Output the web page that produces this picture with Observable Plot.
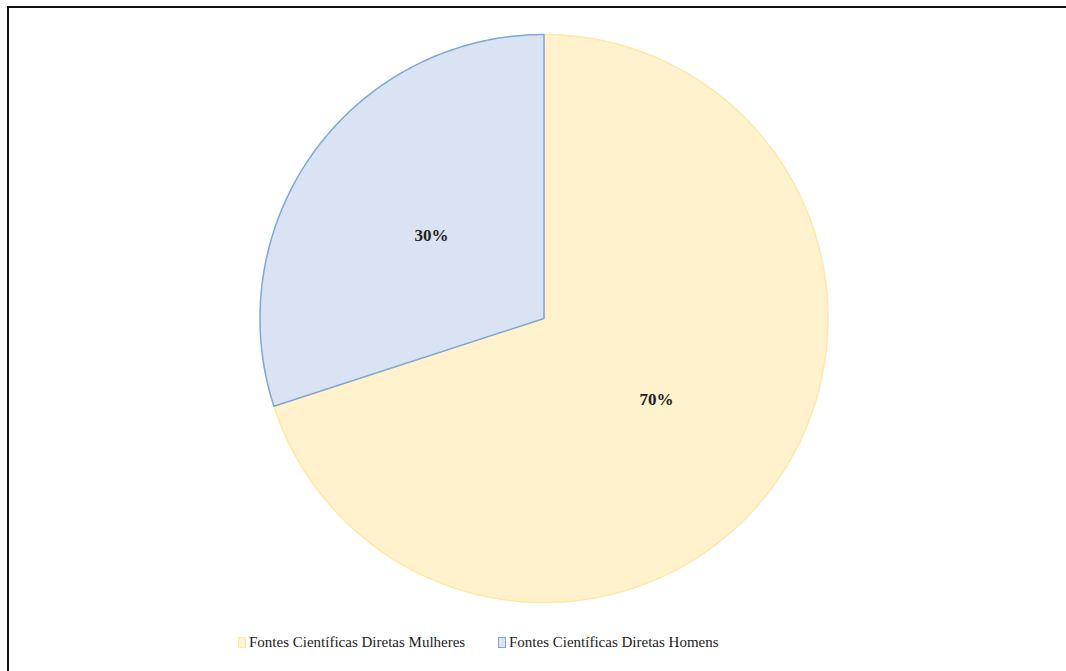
<!DOCTYPE html>
<html>
<head>
<meta charset="utf-8">
<script src="https://cdn.jsdelivr.net/npm/d3@7"></script>
<script src="https://cdn.jsdelivr.net/npm/@observablehq/plot@0.6"></script>
<style>
  html, body { margin: 0; padding: 0; background: #fff; width: 1066px; height: 671px; overflow: hidden; }
  #wrap { position: relative; width: 1066px; height: 671px; }
  #frame { position: absolute; left: 7px; top: 6px; width: 1070px; height: 680px; border: 2px solid #111; box-sizing: border-box; pointer-events: none; }
  #toptxt { position: absolute; left: 536px; top: -17px; font: 15px "Liberation Serif", serif; color: #111; }
  #legend { position: absolute; left: 0; top: 634px; width: 1066px; font: 15px "Liberation Serif", serif; color: #222; }
  .item { position: absolute; top: 0; display: flex; align-items: center; white-space: nowrap; }
  .sw { width: 8px; height: 11px; margin-right: 3px; box-sizing: border-box; border: 1px solid; }
</style>
</head>
<body>
<div id="wrap">
  <div id="chart"></div>
  <div id="toptxt">p</div>
  <div id="frame"></div>
  <div id="legend"></div>
</div>
<script>
const categories = ["Fontes Científicas Diretas Mulheres", "Fontes Científicas Diretas Homens"];
const values = [70, 30];
const labels = ["70%", "30%"];
const fills = ["#FFF2CC", "#DAE3F3"];
const strokes = ["#FFE9A8", "#7FA6D8"];

const pie = d3.pie().sort(null).value(d => d.value);
const rows = categories.map((c, i) => ({cat: c, value: values[i], label: labels[i], fill: fills[i], stroke: strokes[i]}));
const arcs = pie(rows);

// slice outline points (unit circle, angle clockwise from 12 o'clock)
const pts = [];
arcs.forEach(a => {
  pts.push({cat: a.data.cat, x: 0, y: 0, fill: a.data.fill, stroke: a.data.stroke});
  const n = Math.max(2, Math.ceil((a.endAngle - a.startAngle) / 0.01));
  for (let k = 0; k <= n; k++) {
    const t = a.startAngle + (a.endAngle - a.startAngle) * k / n;
    pts.push({cat: a.data.cat, x: Math.sin(t), y: Math.cos(t), fill: a.data.fill, stroke: a.data.stroke});
  }
});
const labelPts = arcs.map(a => {
  const m = (a.startAngle + a.endAngle) / 2;
  return {label: a.data.label, x: 0.49 * Math.sin(m), y: 0.49 * Math.cos(m)};
});

const chart = Plot.plot({
  width: 1066,
  height: 671,
  marginLeft: 259.5,
  marginRight: 238.5,
  marginTop: 34,
  marginBottom: 69,
  x: {domain: [-1, 1], axis: null},
  y: {domain: [-1, 1], axis: null},
  style: {background: "transparent"},
  marks: [
    Plot.line(pts, {x: "x", y: "y", z: "cat", fill: "fill", stroke: "stroke", strokeWidth: 1.5, curve: "linear-closed"}),
    Plot.text(labelPts, {x: "x", y: "y", text: "label", fontFamily: "Liberation Serif, serif", fontWeight: "bold", fontSize: 17, fill: "#222", dy: -1})
  ]
});
document.getElementById("chart").appendChild(chart);

const legend = document.getElementById("legend");
const lefts = [238, 498];
categories.forEach((c, i) => {
  const it = document.createElement("div");
  it.className = "item";
  it.style.left = lefts[i] + "px";
  const sw = document.createElement("span");
  sw.className = "sw";
  sw.style.background = fills[i];
  sw.style.borderColor = strokes[i];
  const tx = document.createElement("span");
  tx.textContent = c;
  it.appendChild(sw);
  it.appendChild(tx);
  legend.appendChild(it);
});
</script>
</body>
</html>
